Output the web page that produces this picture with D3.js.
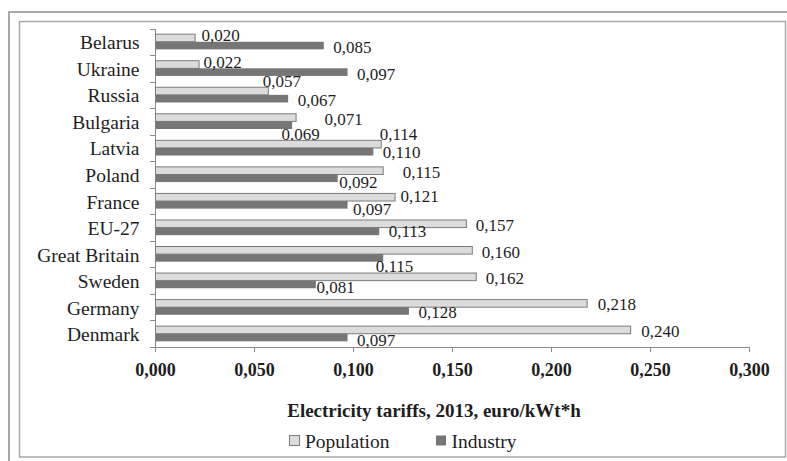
<!DOCTYPE html>
<meta charset="utf-8">
<style>

body {
  margin: 0;
  background: #fff;
  width: 787px;
  height: 461px;
  overflow: hidden;
}

svg text {
  font-family: "Liberation Serif", "Times New Roman", serif;
  fill: #1e1e1e;
}

.frame {
  fill: none;
  stroke: #a8a8a8;
  stroke-width: 2px;
}

.axis path,
.axis line,
.tick-mark {
  stroke: #8a8a8a;
  stroke-width: 1px;
  shape-rendering: crispEdges;
}

.pop {
  fill: #dcdcdc;
  stroke: #7c7c7c;
  stroke-width: 1px;
}

.ind {
  fill: #767676;
}

</style>
<body>
<script src="https://cdn.jsdelivr.net/npm/d3@7"></script>
<script>

// Tariffs, euro per kWt*h.
var countries = ["Belarus", "Ukraine", "Russia", "Bulgaria", "Latvia", "Poland",
                 "France", "EU-27", "Great Britain", "Sweden", "Germany", "Denmark"];
var population = [0.020, 0.022, 0.057, 0.071, 0.114, 0.115, 0.121, 0.157, 0.160, 0.162, 0.218, 0.240];
var industry   = [0.085, 0.097, 0.067, 0.069, 0.110, 0.092, 0.097, 0.113, 0.115, 0.081, 0.128, 0.097];
var series = ["Population", "Industry"];
var xTicks = [0, 0.05, 0.10, 0.15, 0.20, 0.25, 0.30];
var axisTitle = "Electricity tariffs, 2013, euro/kWt*h";

// The value labels in the original were dragged around by hand,
// so each one gets a little nudge [dx, dy] from its default spot.
var popNudge = [[-3,-4], [-5,-4], [-15,-11], [19,0], [-11,-11], [10,0],
                [-4,-2], [0,0], [0,1], [0,0], [1,0], [1,0]];
var indNudge = [[0,0], [0,1], [0,0], [-20,8], [0,-1], [-8,3],
                [-4,3], [0,-1], [-17,7], [-9,2], [0,0], [0,1]];

var width = 787,
    height = 461;

var fmt = d3.formatLocale({decimal: ",", thousands: " ", grouping: [3], currency: ["", ""]}).format(".3f");

var svg = d3.select("body").append("svg")
    .attr("width", width)
    .attr("height", height);

// double frame: the outer one runs off the picture, the inner one closes just inside it
svg.append("rect").attr("class", "frame")
    .attr("x", 9).attr("y", 12).attr("width", 800).attr("height", 470);
svg.append("rect").attr("class", "frame")
    .attr("x", 19.5).attr("y", 21.5).attr("width", 766).attr("height", 435.5)
    .style("stroke-width", "1.5px");

var x = d3.scaleLinear()
    .domain([0, 0.3])
    .range([155, 749]);

var y = d3.scaleBand()
    .domain(countries)
    .range([28.5, 347]);

var barH = 7.6;
var sub = d3.scaleBand()
    .domain(series)
    .range([y.bandwidth() / 2 - barH, y.bandwidth() / 2 + barH]);

// value axis
var xAxis = svg.append("g")
    .attr("class", "axis")
    .attr("transform", "translate(0," + y.range()[1] + ")")
    .call(d3.axisBottom(x).tickValues(xTicks).tickSize(5).tickSizeOuter(0).tickFormat(fmt));
xAxis.selectAll("text")
    .attr("y", 29)
    .attr("dy", 0)
    .style("font-size", "18px")
    .style("font-weight", "bold");
xAxis.select(".domain").attr("d", "M" + x(0) + ",0.5H" + x(0.3));

// category axis: labels from d3, ticks between the bands like Excel does
var yAxis = svg.append("g")
    .attr("class", "axis")
    .attr("transform", "translate(" + x(0) + ",0)")
    .call(d3.axisLeft(y).tickSize(0).tickPadding(15.5));
yAxis.selectAll("text")
    .attr("dy", 0)
    .attr("y", 7.5)
    .style("font-size", "19.5px");
yAxis.select(".domain").attr("d", "M0.5," + y.range()[0] + "V" + y.range()[1]);

var edges = countries.map(function(c) { return y(c); }).concat([y.range()[1]]);
svg.selectAll(".tick-mark")
    .data(edges)
  .enter().append("line")
    .attr("class", "tick-mark")
    .attr("x1", x(0) - 5)
    .attr("x2", x(0))
    .attr("y1", function(d) { return Math.round(d) + 0.5; })
    .attr("y2", function(d) { return Math.round(d) + 0.5; });

// bars
var rows = countries.map(function(c, i) {
  return {country: c, Population: population[i], Industry: industry[i], i: i};
});

var groups = svg.selectAll(".row")
    .data(rows)
  .enter().append("g")
    .attr("class", "row")
    .attr("transform", function(d) { return "translate(0," + y(d.country) + ")"; });

groups.append("rect")
    .attr("class", "pop")
    .attr("x", x(0) + 0.5)
    .attr("y", sub("Population"))
    .attr("width", function(d) { return x(d.Population) - x(0); })
    .attr("height", sub.bandwidth());

groups.append("rect")
    .attr("class", "ind")
    .attr("x", x(0) + 0.5)
    .attr("y", sub("Industry"))
    .attr("width", function(d) { return x(d.Industry) - x(0); })
    .attr("height", sub.bandwidth());

// value labels
groups.append("text")
    .attr("x", function(d) { return x(d.Population) + 10 + popNudge[d.i][0]; })
    .attr("y", function(d) { return sub("Population") + sub.bandwidth() / 2 + 7 + popNudge[d.i][1]; })
    .style("font-size", "17px")
    .text(function(d) { return fmt(d.Population); });

groups.append("text")
    .attr("x", function(d) { return x(d.Industry) + 10 + indNudge[d.i][0]; })
    .attr("y", function(d) { return sub("Industry") + sub.bandwidth() / 2 + 7 + indNudge[d.i][1]; })
    .style("font-size", "17px")
    .text(function(d) { return fmt(d.Industry); });

// axis title
svg.append("text")
    .attr("x", 434)
    .attr("y", 416.5)
    .attr("text-anchor", "middle")
    .style("font-size", "19px")
    .style("font-weight", "bold")
    .text(axisTitle);

// legend
var legendX = [289.5, 436];
var legend = svg.selectAll(".legend")
    .data(series)
  .enter().append("g")
    .attr("class", "legend")
    .attr("transform", function(d, i) { return "translate(" + legendX[i] + ",435.5)"; });

legend.append("rect")
    .attr("class", function(d, i) { return i === 0 ? "pop" : "ind"; })
    .attr("width", 10)
    .attr("height", 10);

legend.append("text")
    .attr("x", 15.5)
    .attr("y", 12.5)
    .style("font-size", "19.5px")
    .text(function(d) { return d; });

</script>
</body>
